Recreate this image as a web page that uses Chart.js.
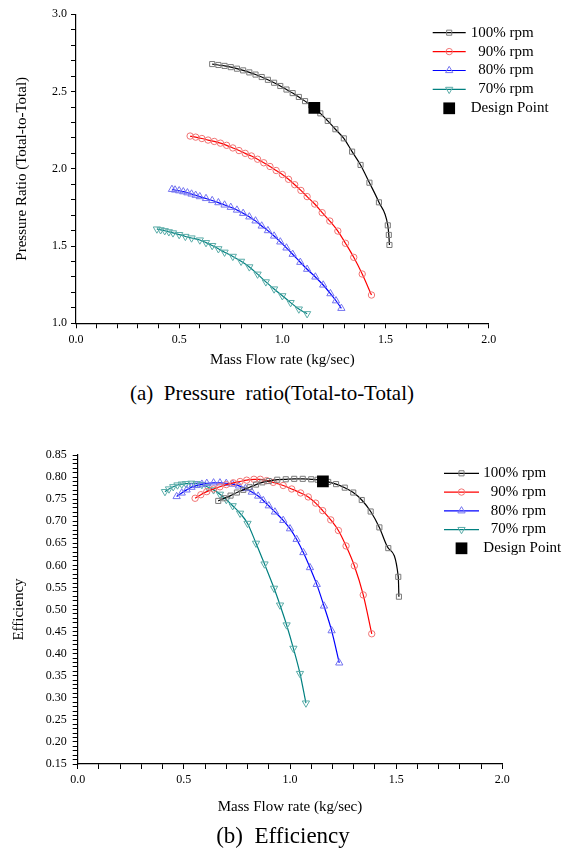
<!doctype html>
<html>
<head>
<meta charset="UTF-8">
<title>Compressor map</title>
<script src="https://cdn.jsdelivr.net/npm/chart.js@4.4.0/dist/chart.umd.min.js"></script>
<style>
body { margin:0; background:#fff; width:573px; height:849px; position:relative; overflow:hidden;
       font-family:'Liberation Serif','Times New Roman',serif; }
canvas { position:absolute; left:0; }
#prChart { top:0; }
#effChart { top:400px; }
.caption { position:absolute; left:0; text-align:center; white-space:pre; color:#000; }
</style>
</head>
<body>

<canvas id="prChart" width="573" height="375"></canvas>
<div class="caption" style="top:382px; width:544px; font-size:21px; line-height:22px">(a)  Pressure  ratio(Total-to-Total)</div>
<canvas id="effChart" width="573" height="425"></canvas>
<div class="caption" style="top:824px; width:566px; font-size:23px; line-height:24px">(b)  Efficiency</div>

<script>
var fontFamily = "'Liberation Serif', 'Times New Roman', serif";

// legend names
var seriesLabels = ['100% rpm', '90% rpm', '80% rpm', '70% rpm'];
var designLabel = 'Design Point';

// tick labels
var flowTicks = [0.0, 0.5, 1.0, 1.5, 2.0];
var prTicks = [1.0, 1.5, 2.0, 2.5, 3.0];
var effTicks = [0.15, 0.20, 0.25, 0.30, 0.35, 0.40, 0.45, 0.50, 0.55, 0.60, 0.65, 0.70, 0.75, 0.80, 0.85];

// (a) pressure ratio
var flow100a = [0.66,0.69,0.72,0.75,0.78,0.81,0.84,0.87,0.90,0.93,0.96,0.99,1.02,1.05,1.08,1.11,1.14,1.184,1.22,1.257,1.298,1.338,1.379,1.422,1.468,1.511,1.516,1.519];
var pr100 = [2.678,2.672,2.666,2.658,2.648,2.637,2.624,2.610,2.594,2.576,2.557,2.536,2.513,2.490,2.465,2.438,2.410,2.359,2.310,2.256,2.197,2.111,2.025,1.910,1.783,1.634,1.572,1.507];

var flow90a = [0.553,0.58,0.61,0.64,0.67,0.70,0.73,0.76,0.79,0.82,0.85,0.88,0.91,0.94,0.97,1.00,1.03,1.06,1.09,1.12,1.157,1.193,1.23,1.269,1.306,1.346,1.387,1.432];
var pr90 = [2.212,2.205,2.196,2.186,2.177,2.166,2.152,2.135,2.118,2.100,2.083,2.062,2.039,2.015,1.989,1.963,1.932,1.897,1.860,1.820,1.772,1.716,1.662,1.597,1.518,1.427,1.319,1.183];

var flow80a = [0.465,0.48,0.50,0.52,0.54,0.56,0.58,0.60,0.63,0.66,0.69,0.72,0.75,0.78,0.81,0.84,0.87,0.90,0.93,0.96,0.99,1.02,1.05,1.087,1.12,1.16,1.198,1.233,1.26,1.286];
var pr80 = [1.867,1.863,1.858,1.852,1.845,1.837,1.829,1.820,1.808,1.795,1.781,1.766,1.751,1.733,1.712,1.689,1.663,1.630,1.600,1.565,1.527,1.488,1.447,1.395,1.350,1.300,1.248,1.192,1.146,1.097];

var flow70a = [0.392,0.41,0.43,0.45,0.47,0.50,0.53,0.56,0.60,0.63,0.66,0.69,0.72,0.76,0.80,0.84,0.88,0.92,0.96,1.00,1.04,1.08,1.12];
var pr70 = [1.610,1.605,1.599,1.592,1.585,1.574,1.562,1.552,1.539,1.522,1.503,1.482,1.460,1.433,1.401,1.365,1.318,1.268,1.222,1.178,1.134,1.092,1.062];

// (b) efficiency
var flow100b = [0.662,0.69,0.72,0.75,0.78,0.81,0.84,0.87,0.90,0.94,0.98,1.02,1.06,1.10,1.13,1.18,1.217,1.258,1.298,1.338,1.38,1.421,1.463,1.51,1.513];
var eff100 = [0.746,0.752,0.758,0.765,0.771,0.777,0.783,0.788,0.791,0.794,0.795,0.796,0.796,0.795,0.794,0.789,0.784,0.776,0.765,0.748,0.722,0.686,0.639,0.574,0.529];

var flow90b = [0.553,0.58,0.608,0.64,0.67,0.70,0.733,0.765,0.796,0.83,0.86,0.89,0.921,0.968,1.008,1.05,1.086,1.121,1.154,1.192,1.228,1.264,1.303,1.345,1.385];
var eff90 = [0.752,0.760,0.767,0.773,0.778,0.783,0.787,0.790,0.793,0.795,0.795,0.792,0.788,0.781,0.773,0.764,0.755,0.741,0.724,0.703,0.679,0.644,0.599,0.533,0.445];

var flow80b = [0.466,0.49,0.513,0.536,0.56,0.585,0.608,0.64,0.67,0.70,0.73,0.76,0.79,0.82,0.85,0.874,0.90,0.929,0.968,1.0,1.031,1.063,1.094,1.126,1.16,1.196,1.232];
var eff80 = [0.756,0.764,0.771,0.777,0.781,0.784,0.786,0.787,0.787,0.786,0.784,0.780,0.774,0.766,0.757,0.747,0.735,0.721,0.702,0.683,0.659,0.629,0.595,0.557,0.508,0.452,0.379];

var flow70b = [0.411,0.43,0.45,0.47,0.49,0.51,0.535,0.56,0.585,0.61,0.64,0.67,0.70,0.73,0.765,0.80,0.84,0.88,0.925,0.953,0.984,1.016,1.047,1.075];
var eff70 = [0.767,0.773,0.778,0.782,0.784,0.785,0.786,0.785,0.783,0.778,0.771,0.761,0.749,0.735,0.718,0.695,0.650,0.603,0.548,0.510,0.465,0.412,0.355,0.288];

// design point
var designFlow = [1.155];
var designPR = [2.395];
var designEff = [0.790];

var lineStyles = [
    {line:'#000000', marker:'#7a7a7a', shape:'rect', radius:3.6, rot:0},
    {line:'#ff0000', marker:'#f07474', shape:'circle', radius:3.2, rot:0},
    {line:'#0000ff', marker:'#7474f0', shape:'triangle', radius:4.2, rot:0},
    {line:'#008080', marker:'#5aaca8', shape:'triangle', radius:4.2, rot:180}
];

function pairs(xs, ys) {
    return xs.map(function(x, i) { return {x: x, y: ys[i]}; });
}

function isMajor(v, list) {
    return list.some(function(t) { return Math.abs(t - v) < 1e-6; });
}

function buildDatasets(flows, values, dFlow, dVal) {
    var sets = [{
        label: designLabel,
        data: pairs(dFlow, dVal),
        showLine: false,
        pointStyle: 'rect',
        pointRadius: 8.3,
        pointBackgroundColor: '#000',
        pointBorderColor: '#000',
        pointBorderWidth: 0
    }];
    for (var i = 0; i < flows.length; i++) {
        var s = lineStyles[i];
        sets.push({
            label: seriesLabels[i],
            data: pairs(flows[i], values[i]),
            borderColor: s.line,
            borderWidth: 1.2,
            cubicInterpolationMode: 'monotone',
            pointStyle: s.shape,
            pointRotation: s.rot,
            pointRadius: s.radius,
            pointBorderColor: s.marker,
            pointBackgroundColor: 'rgba(0,0,0,0)',
            pointBorderWidth: 1,
            fill: false
        });
    }
    return sets;
}

// legend drawn inside the plot, rpm lines first then the design point
var insideLegend = {
    id: 'insideLegend',
    afterDraw: function(chart, args, o) {
        var ctx = chart.ctx;
        var sets = chart.data.datasets;
        var lines = sets.filter(function(d) { return d.showLine !== false; });
        var pts = sets.filter(function(d) { return d.showLine === false; });
        var ordered = lines.concat(pts);
        ctx.save();
        ctx.font = o.fontSize + 'px ' + fontFamily;
        var maxW = 0;
        lines.forEach(function(d) { maxW = Math.max(maxW, ctx.measureText(d.label).width); });
        ordered.forEach(function(d, i) {
            var y = o.top + i * o.rowHeight;
            var cx = o.left + o.lineLength / 2;
            var hasLine = d.showLine !== false;
            if (hasLine) {
                ctx.strokeStyle = d.borderColor;
                ctx.lineWidth = d.borderWidth;
                ctx.beginPath();
                ctx.moveTo(o.left, y);
                ctx.lineTo(o.left + o.lineLength, y);
                ctx.stroke();
            }
            ctx.strokeStyle = d.pointBorderColor;
            ctx.fillStyle = d.pointBackgroundColor;
            ctx.lineWidth = d.pointBorderWidth;
            Chart.helpers.drawPoint(ctx, {
                pointStyle: d.pointStyle,
                rotation: d.pointRotation || 0,
                radius: d.pointRadius,
                borderWidth: d.pointBorderWidth
            }, cx, y);
            ctx.fillStyle = '#000';
            ctx.textBaseline = 'middle';
            if (hasLine) {
                ctx.textAlign = 'right';
                ctx.fillText(d.label, o.textX + maxW, y);
            } else {
                ctx.textAlign = 'left';
                ctx.fillText(d.label, o.textX, y);
            }
        });
        ctx.restore();
    }
};

function makeChart(id, cfg) {
    var ctx = document.getElementById(id).getContext('2d');
    return new Chart(ctx, {
        type: 'line',
        data: { datasets: cfg.datasets },
        plugins: [insideLegend],
        options: {
            responsive: false,
            animation: false,
            layout: { padding: cfg.padding },
            plugins: {
                legend: { display: false },
                tooltip: { enabled: false },
                insideLegend: cfg.legend
            },
            scales: {
                x: {
                    type: 'linear',
                    min: 0, max: 2,
                    ticks: {
                        stepSize: 0.1, autoSkip: false, maxRotation: 0, padding: 4,
                        color: '#000', font: { family: fontFamily, size: 12 },
                        callback: function(v) { return isMajor(v, flowTicks) ? v.toFixed(1) : ''; }
                    },
                    grid: { drawOnChartArea: false, tickLength: 5, tickColor: '#000', tickWidth: 1 },
                    border: { display: true, color: '#000', width: 1.2 },
                    title: { display: true, text: 'Mass Flow rate (kg/sec)', color: '#000',
                             font: { family: fontFamily, size: 15 }, padding: { top: 0, bottom: cfg.xTitlePad } },
                    afterFit: function(s) { s.height = cfg.xHeight; }
                },
                y: {
                    type: 'linear',
                    min: cfg.yMin, max: cfg.yMax,
                    ticks: {
                        stepSize: cfg.yStep, autoSkip: false, padding: cfg.yPad,
                        color: '#000', font: { family: fontFamily, size: 12 },
                        callback: function(v) { return isMajor(v, cfg.yTicks) ? v.toFixed(cfg.yDigits) : ''; }
                    },
                    grid: { drawOnChartArea: false, tickLength: 5, tickColor: '#000', tickWidth: 1 },
                    border: { display: true, color: '#000', width: 1.2 },
                    title: { display: true, text: cfg.yTitle, color: '#000',
                             font: { family: fontFamily, size: 15 }, padding: { top: cfg.yTitlePad, bottom: 0 } },
                    afterFit: function(s) { s.width = cfg.yWidth; }
                }
            }
        }
    });
}

makeChart('prChart', {
    datasets: buildDatasets([flow100a, flow90a, flow80a, flow70a], [pr100, pr90, pr80, pr70], designFlow, designPR),
    padding: { left: 0, top: 14.3, right: 84.3, bottom: 0 },
    xHeight: 51.7, yWidth: 76, xTitlePad: 6,
    yMin: 1.0, yMax: 3.0, yStep: 0.1, yTicks: prTicks, yDigits: 1, yPad: 4,
    yTitle: 'Pressure Ratio (Total-to-Total)', yTitlePad: 12.7,
    legend: { left: 432.7, top: 32.7, rowHeight: 18.9, lineLength: 33, textX: 470.7, fontSize: 15 }
});

makeChart('effChart', {
    datasets: buildDatasets([flow100b, flow90b, flow80b, flow70b], [eff100, eff90, eff80, eff70], designFlow, designEff),
    padding: { left: 0, top: 55, right: 70.7, bottom: 0 },
    xHeight: 61, yWidth: 77.7, xTitlePad: 9,
    yMin: 0.15, yMax: 0.85, yStep: 0.01, yTicks: effTicks, yDigits: 2, yPad: 6,
    yTitle: 'Efficiency', yTitlePad: 10,
    legend: { left: 444, top: 73.3, rowHeight: 18.75, lineLength: 35, textX: 483.3, fontSize: 15 }
});
</script>
</body>
</html>
